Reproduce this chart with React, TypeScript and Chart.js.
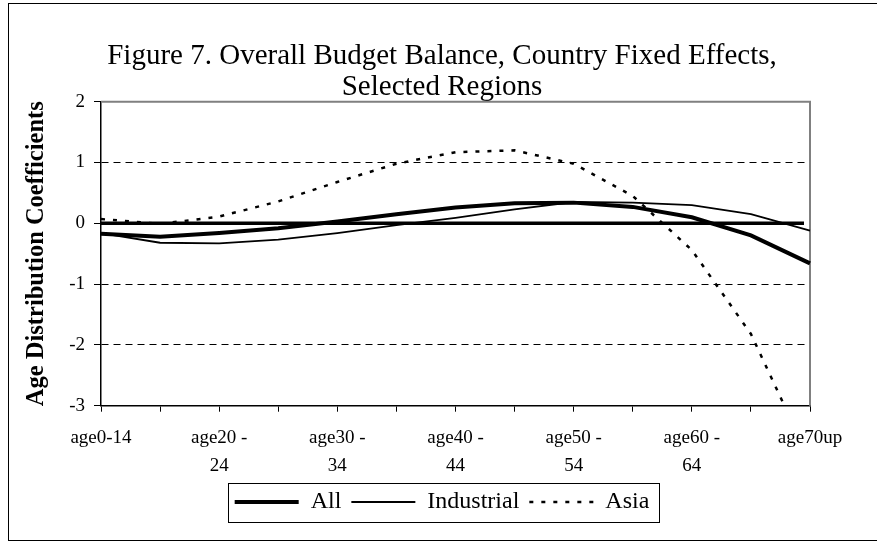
import React, { useEffect, useRef } from 'react';
import { Chart, registerables } from 'chart.js';

Chart.register(...registerables);

const FONT = "'Liberation Serif', 'Times New Roman', serif";

const categories = [
  'age0-14', 'age15 - 19', 'age20 - 24', 'age25 - 29', 'age30 - 34', 'age35 - 39',
  'age40 - 44', 'age45 - 49', 'age50 - 54', 'age55 - 59', 'age60 - 64', 'age65 - 69', 'age70up',
];
const allValues = [-0.17, -0.22, -0.16, -0.08, 0.03, 0.15, 0.26, 0.33, 0.34, 0.27, 0.1, -0.2, -0.66];
const industrialValues = [-0.16, -0.32, -0.33, -0.27, -0.16, -0.03, 0.09, 0.23, 0.35, 0.34, 0.3, 0.15, -0.12];
const asiaValues = [0.07, -0.01, 0.11, 0.36, 0.68, 0.98, 1.17, 1.2, 0.98, 0.45, -0.44, -1.82, -3.9];
const yTicks = [-3, -2, -1, 0, 1, 2];
const titleLines = ['Figure 7. Overall Budget Balance, Country Fixed Effects,', 'Selected Regions'];
const yAxisTitle = 'Age Distribution Coefficients';
const seriesNames = ['All', 'Industrial', 'Asia'];

const decor = {
  id: 'decor',
  beforeDatasetsDraw(chart: any) {
    const { ctx, chartArea: a, scales } = chart;
    ctx.save();
    ctx.strokeStyle = '#808080';
    ctx.lineWidth = 2;
    ctx.beginPath();
    ctx.moveTo(a.left, a.top);
    ctx.lineTo(a.right, a.top);
    ctx.lineTo(a.right, a.bottom);
    ctx.stroke();
    const y0 = scales.y.getPixelForValue(0);
    ctx.strokeStyle = '#000';
    ctx.lineWidth = 3.5;
    ctx.beginPath();
    ctx.moveTo(a.left, y0);
    ctx.lineTo(a.right - 6, y0);
    ctx.stroke();
    ctx.restore();
  },
  afterDraw(chart: any) {
    const { ctx } = chart;
    ctx.save();
    ctx.strokeStyle = '#000';
    ctx.lineWidth = 1;
    ctx.strokeRect(8.5, 3.5, 880, 537);
    const hb = chart.legend.legendHitBoxes;
    if (hb && hb.length) {
      const left = Math.min(...hb.map((h: any) => h.left)) - 7;
      const right = Math.max(...hb.map((h: any) => h.left + h.width)) + 9;
      const cy = hb[0].top + hb[0].height / 2;
      ctx.strokeRect(Math.round(left) + 0.5, Math.round(cy - 19.5) + 0.5, Math.round(right - left), 39);
    }
    ctx.restore();
  },
};

export default function App() {
  const ref = useRef<HTMLCanvasElement>(null);
  useEffect(() => {
    Chart.defaults.font.family = FONT;
    const chart = new Chart(ref.current!, {
      type: 'line',
      data: {
        labels: categories,
        datasets: [
          { label: seriesNames[0], data: allValues, borderColor: '#000', borderWidth: 4, pointRadius: 0, tension: 0, borderDash: [] },
          { label: seriesNames[1], data: industrialValues, borderColor: '#000', borderWidth: 1.8, pointRadius: 0, tension: 0, borderDash: [] },
          { label: seriesNames[2], data: asiaValues, borderColor: '#000', borderWidth: 2.5, pointRadius: 0, tension: 0, borderDash: [4, 8] },
        ],
      },
      options: {
        responsive: false,
        animation: false,
        layout: { padding: { left: 10, right: 3, top: 0, bottom: 18 } },
        plugins: {
          title: {
            display: true,
            text: titleLines,
            color: '#000',
            font: { family: FONT, size: 29, weight: 'normal', lineHeight: '31px' },
            padding: { top: 41, bottom: -1.3 },
          },
          legend: {
            position: 'bottom',
            labels: {
              usePointStyle: true,
              pointStyleWidth: 64,
              padding: 10,
              color: '#000',
              font: { family: FONT, size: 24 },
              generateLabels: (c: any) =>
                c.data.datasets.map((ds: any, i: number) => ({
                  text: ds.label,
                  fillStyle: 'rgba(0,0,0,0)',
                  strokeStyle: '#000',
                  lineWidth: ds.borderWidth,
                  lineDash: ds.borderDash || [],
                  lineCap: 'butt',
                  pointStyle: 'line',
                  fontColor: '#000',
                  hidden: false,
                  datasetIndex: i,
                })),
            },
          },
          tooltip: { enabled: false },
        },
        scales: {
          x: {
            offset: false,
            ticks: {
              autoSkip: false,
              maxRotation: 0,
              minRotation: 0,
              color: '#000',
              padding: 13,
              font: { family: FONT, size: 19, lineHeight: 1.45 },
              callback: (_v: any, i: number) => {
                if (i % 2) return '';
                const parts = categories[i].split(' - ');
                return parts.length > 1 ? [parts[0] + ' -', parts[1]] : categories[i];
              },
            },
            grid: { drawOnChartArea: false, drawTicks: true, tickLength: 6, tickColor: '#000', tickWidth: 1 },
            border: { color: '#000', width: 1.5 },
            afterFit: (s: any) => { s.height = 74.3; },
          },
          y: {
            min: -3,
            max: 2,
            afterBuildTicks: (s: any) => { s.ticks = yTicks.map((v) => ({ value: v })); },
            ticks: { color: '#000', padding: 9, font: { family: FONT, size: 19 } },
            grid: {
              color: (c: any) => ([1, -1, -2].includes(c.tick?.value) ? '#000' : 'rgba(0,0,0,0)'),
              lineWidth: 1,
              drawTicks: true,
              tickLength: 7,
              tickColor: '#000',
              tickWidth: 1,
            },
            border: { display: true, color: '#000', width: 1.5, dash: [7, 5] },
            title: {
              display: true,
              text: yAxisTitle,
              color: '#000',
              font: { family: FONT, size: 24.5, weight: 'bold' },
              padding: { top: 11.6, bottom: 0 },
            },
            afterFit: (s: any) => { s.width = 91; },
          },
          y2: {
            position: 'right',
            display: true,
            ticks: { display: false },
            grid: { display: false, drawTicks: false },
            border: { display: false },
            afterFit: (s: any) => { s.width = 64; },
          },
        },
      },
      plugins: [decor],
    } as any);
    return () => chart.destroy();
  }, []);
  return (
    <div style={{ position: 'fixed', left: 0, top: 0, width: 877, height: 542, background: '#fff' }}>
      <canvas ref={ref} width={877} height={542} style={{ display: 'block', width: 877, height: 542 }} />
    </div>
  );
}
